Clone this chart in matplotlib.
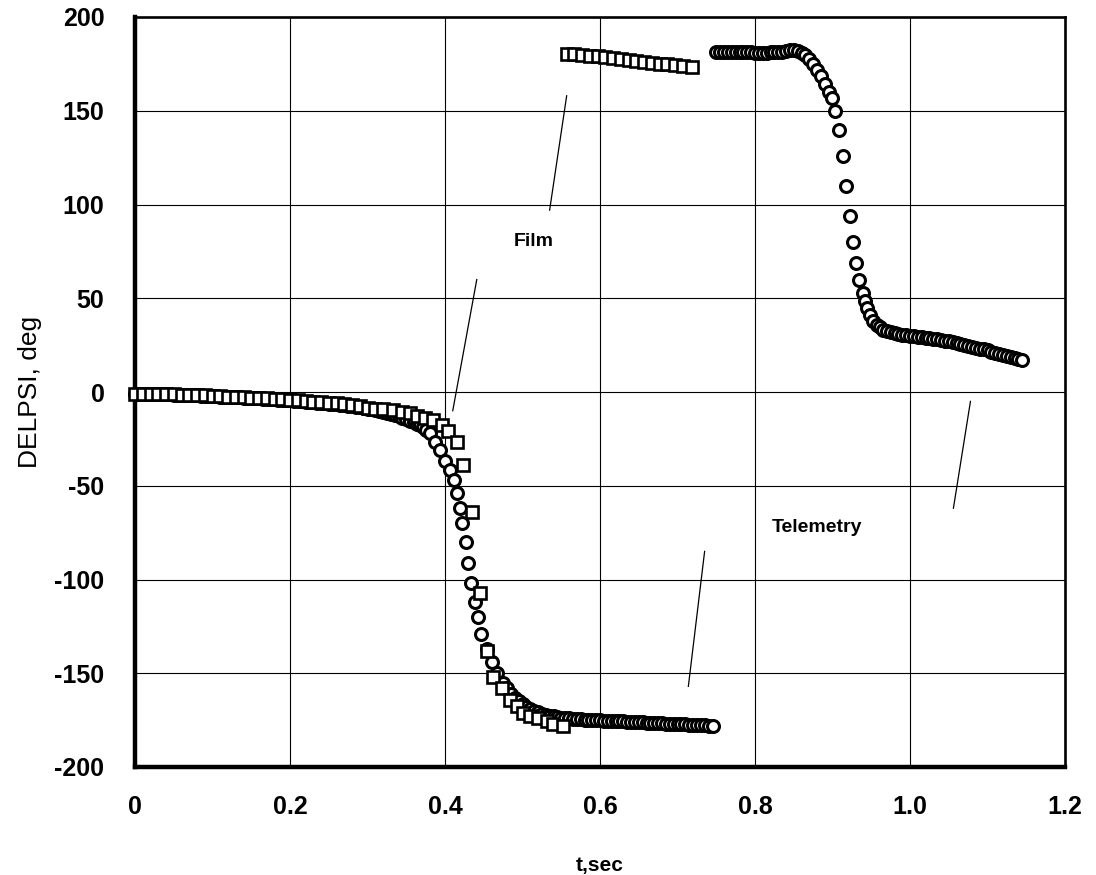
import numpy as np
import matplotlib.pyplot as plt

# Telemetry, first branch (before the +/-180 wrap)
tel_t1 = [0.000, 0.005, 0.010, 0.015, 0.020, 0.025, 0.030, 0.035, 0.040, 0.045,
          0.050, 0.055, 0.060, 0.065, 0.070, 0.075, 0.080, 0.085, 0.090, 0.095,
          0.100, 0.105, 0.110, 0.115, 0.120, 0.125, 0.130, 0.135, 0.140, 0.145,
          0.150, 0.155, 0.160, 0.165, 0.170, 0.175, 0.180, 0.185, 0.190, 0.195,
          0.200, 0.205, 0.210, 0.215, 0.220, 0.225, 0.230, 0.235, 0.240, 0.245,
          0.250, 0.255, 0.260, 0.265, 0.270, 0.275, 0.280, 0.285, 0.290, 0.295,
          0.300, 0.305, 0.310, 0.315, 0.320, 0.325, 0.330, 0.335, 0.340, 0.345,
          0.350, 0.355, 0.360, 0.364, 0.368, 0.372, 0.376, 0.381, 0.387, 0.394,
          0.400, 0.406, 0.411, 0.415, 0.419, 0.422, 0.427, 0.430, 0.434, 0.439,
          0.443, 0.447, 0.454, 0.460, 0.467, 0.475, 0.480, 0.485, 0.490, 0.495,
          0.500, 0.505, 0.510, 0.515, 0.520, 0.525, 0.530, 0.535, 0.540, 0.545,
          0.550, 0.555, 0.560, 0.565, 0.570, 0.575, 0.580, 0.585, 0.590, 0.595,
          0.600, 0.605, 0.610, 0.615, 0.620, 0.625, 0.630, 0.635, 0.640, 0.645,
          0.650, 0.655, 0.660, 0.665, 0.670, 0.675, 0.680, 0.685, 0.690, 0.695,
          0.700, 0.705, 0.710, 0.715, 0.720, 0.725, 0.730, 0.735, 0.740, 0.746]
tel_y1 = [-1.0, -1.0, -1.0, -1.0, -1.1, -1.1, -1.2, -1.2, -1.3, -1.3,
          -1.4, -1.4, -1.5, -1.5, -1.6, -1.7, -1.8, -1.9, -2.0, -2.1,
          -2.2, -2.3, -2.4, -2.5, -2.6, -2.7, -2.8, -2.9, -3.0, -3.1,
          -3.2, -3.3, -3.4, -3.5, -3.6, -3.8, -3.9, -4.0, -4.2, -4.3,
          -4.5, -4.6, -4.8, -4.9, -5.1, -5.2, -5.4, -5.6, -5.8, -6.0,
          -6.2, -6.4, -6.6, -6.8, -7.0, -7.3, -7.6, -7.9, -8.2, -8.5,
          -8.8, -9.2, -9.6, -10.0, -10.5, -11.0, -11.6, -12.2, -12.9, -13.6,
          -14.4, -15.2, -16.0, -16.8, -17.8, -18.9, -20.2, -22.0, -26.6, -31.0,
          -37.0, -41.5, -47.0, -54.0, -62.0, -70.0, -80.0, -91.0, -102.0, -112.0,
          -120.0, -129.0, -137.0, -144.0, -150.0, -155.0, -158.0, -161.0, -163.0, -165.0,
          -166.5, -167.8, -169.0, -170.0, -170.8, -171.5, -172.1, -172.6, -173.0, -173.4,
          -173.7, -173.9, -174.1, -174.3, -174.4, -174.5, -174.7, -174.8, -174.9, -175.0,
          -175.1, -175.2, -175.3, -175.4, -175.5, -175.6, -175.7, -175.8, -175.9, -176.0,
          -176.1, -176.2, -176.3, -176.4, -176.5, -176.6, -176.7, -176.8, -176.9, -177.0,
          -177.1, -177.2, -177.3, -177.4, -177.5, -177.6, -177.7, -177.8, -177.9, -178.0]

# Telemetry, second branch (after the wrap)
tel_t2 = [0.750, 0.755, 0.760, 0.765, 0.770, 0.775, 0.780, 0.785, 0.790, 0.795,
          0.800, 0.805, 0.810, 0.815, 0.820, 0.825, 0.830, 0.835, 0.840, 0.845,
          0.850, 0.855, 0.860, 0.865, 0.870, 0.875, 0.880, 0.885, 0.890, 0.895,
          0.899, 0.903, 0.908, 0.913, 0.918, 0.923, 0.927, 0.930, 0.934, 0.939,
          0.942, 0.944, 0.948, 0.952, 0.957, 0.961, 0.965, 0.970, 0.975, 0.980,
          0.985, 0.990, 0.995, 1.000, 1.005, 1.010, 1.015, 1.020, 1.025, 1.030,
          1.035, 1.040, 1.045, 1.050, 1.055, 1.060, 1.065, 1.070, 1.075, 1.080,
          1.085, 1.090, 1.095, 1.100, 1.105, 1.110, 1.115, 1.120, 1.125, 1.130,
          1.135, 1.140, 1.145]
tel_y2 = [181.5, 181.5, 181.4, 181.4, 181.3, 181.3, 181.2, 181.2, 181.1, 181.1,
          181.0, 181.0, 181.0, 181.0, 181.1, 181.2, 181.4, 181.6, 181.9, 182.2,
          182.4, 182.0, 181.0, 179.5, 177.5, 175.0, 172.0, 168.5, 164.5, 160.0,
          157.0, 150.0, 140.0, 126.0, 110.0, 94.0, 80.0, 68.6, 60.0, 53.0,
          48.4, 44.7, 41.0, 38.0, 36.0, 34.6, 33.3, 32.4, 31.8, 31.3,
          30.9, 30.6, 30.3, 30.0, 29.7, 29.5, 29.2, 29.0, 28.7, 28.4,
          28.1, 27.8, 27.4, 27.0, 26.6, 26.2, 25.7, 25.2, 24.7, 24.2,
          23.7, 23.2, 22.7, 22.2, 21.6, 21.0, 20.4, 19.8, 19.2, 18.6,
          18.0, 17.5, 17.0]

# Film reads, first branch
film_t1 = [0.000, 0.010, 0.020, 0.030, 0.040, 0.050, 0.060, 0.070, 0.080, 0.090,
           0.100, 0.110, 0.120, 0.130, 0.140, 0.150, 0.160, 0.170, 0.180, 0.190,
           0.200, 0.210, 0.220, 0.230, 0.240, 0.250, 0.260, 0.270, 0.280, 0.290,
           0.300, 0.310, 0.320, 0.333, 0.344, 0.355, 0.364, 0.374, 0.385, 0.396,
           0.404, 0.415, 0.423, 0.435, 0.445, 0.454, 0.462, 0.474, 0.484, 0.493,
           0.501, 0.510, 0.520, 0.531, 0.539, 0.552]
film_y1 = [-1.0, -1.0, -1.1, -1.1, -1.2, -1.3, -1.4, -1.5, -1.6, -1.8,
           -2.0, -2.2, -2.4, -2.6, -2.8, -3.0, -3.2, -3.4, -3.6, -3.9,
           -4.2, -4.5, -4.8, -5.1, -5.4, -5.7, -6.0, -6.4, -6.8, -7.2,
           -8.5, -8.8, -9.2, -9.6, -10.6, -11.0, -12.8, -14.0, -15.0, -17.5,
           -21.0, -26.6, -39.0, -64.0, -107.0, -138.0, -152.0, -158.0, -164.0, -167.5,
           -171.0, -173.0, -174.0, -175.5, -177.0, -178.0]

# Film reads, second branch (after the wrap)
film_t2 = [0.557, 0.567, 0.577, 0.587, 0.597, 0.607, 0.617, 0.627, 0.637, 0.647,
           0.657, 0.667, 0.677, 0.687, 0.697, 0.707, 0.719]
film_y2 = [180.5, 180.2, 179.8, 179.4, 179.0, 178.5, 178.0, 177.6, 177.1, 176.6,
           176.1, 175.6, 175.1, 174.7, 174.2, 173.7, 173.2]

x_ticks = [0, 0.2, 0.4, 0.6, 0.8, 1.0, 1.2]
x_tick_labels = ['0', '0.2', '0.4', '0.6', '0.8', '1.0', '1.2']
y_ticks = [-200, -150, -100, -50, 0, 50, 100, 150, 200]

plt.rcParams['font.family'] = ['Liberation Sans', 'DejaVu Sans']
plt.rcParams['axes.unicode_minus'] = False

fig = plt.figure(figsize=(10.96, 8.75), dpi=100)
ax = fig.add_axes([135 / 1096, 1 - 767 / 875, 930 / 1096, 750 / 875])

circ = dict(linestyle='none', marker='o', markersize=8.6, markeredgewidth=2.2,
            markerfacecolor='white', markeredgecolor='black')
sq = dict(linestyle='none', marker='s', markersize=8.4, markeredgewidth=1.9,
          markerfacecolor='white', markeredgecolor='black')

ax.plot(tel_t1, tel_y1, clip_on=False, zorder=3, **circ)
ax.plot(tel_t2, tel_y2, clip_on=False, zorder=3, **circ)
ax.plot(film_t1, film_y1, clip_on=False, zorder=4, **sq)
ax.plot(film_t2, film_y2, clip_on=False, zorder=4, **sq)

# leader lines for the labels
ax.plot([0.535, 0.557], [97, 158], color='black', lw=0.9)
ax.plot([0.410, 0.441], [-10, 60], color='black', lw=0.9)
ax.plot([0.714, 0.735], [-157, -85], color='black', lw=0.9)
ax.plot([1.056, 1.078], [-62, -5], color='black', lw=0.9)
ax.text(0.515, 80, 'Film', fontsize=14, fontweight='bold', ha='center', va='center')
ax.text(0.88, -72, 'Telemetry', fontsize=14, fontweight='bold', ha='center', va='center')

ax.set_xlim(0, 1.2)
ax.set_ylim(-200, 200)
ax.set_xticks(x_ticks)
ax.set_xticklabels(x_tick_labels)
ax.set_yticks(y_ticks)
ax.grid(True, color='black', linewidth=0.8)
ax.set_axisbelow(True)
ax.tick_params(length=0, labelsize=18)
ax.tick_params(axis='x', pad=20)
ax.tick_params(axis='y', pad=22)
for lab in ax.get_xticklabels() + ax.get_yticklabels():
    lab.set_fontweight('bold')

for side in ['left', 'bottom']:
    ax.spines[side].set_linewidth(3.2)
for side in ['top', 'right']:
    ax.spines[side].set_linewidth(1.9)

ax.set_xlabel('t,sec', fontsize=15, fontweight='bold')
ax.xaxis.set_label_coords(0.5, -0.118)
ax.set_ylabel('DELPSI, deg', fontsize=19)
ax.yaxis.set_label_coords(-0.1, 0.5)

fig.savefig('out.png', dpi=100)
